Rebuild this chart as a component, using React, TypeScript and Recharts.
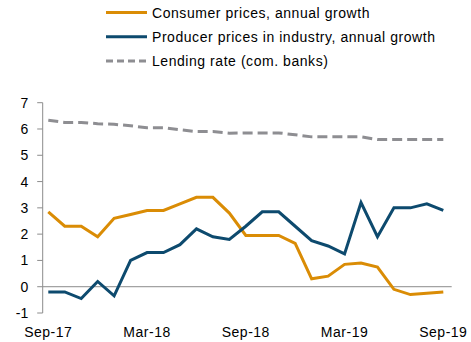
import React from "react";
import { LineChart, Line, XAxis, YAxis, ReferenceLine } from "recharts";

const months = [
  "Sep-17", "Oct-17", "Nov-17", "Dec-17", "Jan-18", "Feb-18", "Mar-18", "Apr-18", "May-18",
  "Jun-18", "Jul-18", "Aug-18", "Sep-18", "Oct-18", "Nov-18", "Dec-18", "Jan-19", "Feb-19",
  "Mar-19", "Apr-19", "May-19", "Jun-19", "Jul-19", "Aug-19", "Sep-19",
];
const consumer = [2.85, 2.3, 2.3, 1.9, 2.6, 2.75, 2.9, 2.9, 3.15, 3.4, 3.4, 2.8, 1.95, 1.95, 1.95, 1.65, 0.3, 0.4, 0.85, 0.9, 0.75, -0.1, -0.3, -0.25, -0.2];
const producer = [-0.2, -0.2, -0.45, 0.2, -0.35, 1.0, 1.3, 1.3, 1.6, 2.2, 1.9, 1.8, 2.3, 2.85, 2.85, 2.3, 1.75, 1.55, 1.25, 3.2, 1.9, 3.0, 3.0, 3.15, 2.9];
const lending = [6.33, 6.25, 6.25, 6.2, 6.18, 6.12, 6.05, 6.05, 5.97, 5.9, 5.9, 5.84, 5.85, 5.85, 5.85, 5.78, 5.7, 5.7, 5.7, 5.7, 5.6, 5.6, 5.6, 5.6, 5.6];
const xTicks = [0, 6, 12, 18, 24];
const yTicks = [-1, 0, 1, 2, 3, 4, 5, 6, 7];
const seriesNames = [
  "Consumer prices, annual growth",
  "Producer prices in industry, annual growth",
  "Lending rate (com. banks)",
];

const data = months.map((m, i) => ({
  idx: i,
  month: m,
  consumer: consumer[i],
  producer: producer[i],
  lending: lending[i],
}));

const ORANGE = "#DA8C05";
const BLUE = "#0D4A6E";
const GREY = "#8E8E92";
const FONT = "'Liberation Sans', Arial, sans-serif";

const legendItems = [
  { name: seriesNames[0], color: ORANGE, dash: undefined as string | undefined },
  { name: seriesNames[1], color: BLUE, dash: undefined as string | undefined },
  { name: seriesNames[2], color: GREY, dash: "7 4" },
];

export default function App() {
  return (
    <div style={{ position: "absolute", left: 0, top: 0, width: 471, height: 342, background: "#fff" }}>
      <svg style={{ position: "absolute", left: 0, top: 0 }} width={471} height={80}>
        {legendItems.map((it, i) => {
          const y = 12.5 + i * 24.3;
          return (
            <g key={it.name}>
              <line x1={106} x2={147} y1={y} y2={y} stroke={it.color} strokeWidth={3} strokeDasharray={it.dash} />
              <text x={152} y={y + 5} fontSize={14} letterSpacing={0.55} fontFamily={FONT} fill="#000">{it.name}</text>
            </g>
          );
        })}
      </svg>
      <LineChart
        width={471}
        height={342}
        data={data}
        margin={{ top: 102.7, right: 19.3, bottom: 0, left: 0 }}
        style={{ position: "absolute", left: 0, top: 0 }}
      >
        <XAxis
          dataKey="idx"
          type="number"
          domain={[-0.34, 24.51]}
          ticks={xTicks}
          tickFormatter={(v: number) => months[v]}
          axisLine={false}
          tickLine={false}
          height={29}
          tick={{ fontSize: 14, fontFamily: FONT, fill: "#000", letterSpacing: 0.5 }}
          tickMargin={8}
          interval={0}
          allowDataOverflow
        />
        <YAxis
          type="number"
          domain={[-1, 7]}
          ticks={yTicks}
          width={42.7}
          axisLine={{ stroke: "#8C8C8C", strokeWidth: 1 }}
          tickLine={{ stroke: "#8C8C8C", strokeWidth: 1 }}
          tickSize={5.5}
          tickMargin={9}
          tick={{ fontSize: 14, fontFamily: FONT, fill: "#000" }}
          interval={0}
        />
        <ReferenceLine y={0} stroke="#8C8C8C" strokeWidth={1} />
        <Line dataKey="lending" stroke={GREY} strokeWidth={3} strokeDasharray="10 5" dot={false} isAnimationActive={false} type="linear" />
        <Line dataKey="consumer" stroke={ORANGE} strokeWidth={3} dot={false} isAnimationActive={false} type="linear" />
        <Line dataKey="producer" stroke={BLUE} strokeWidth={3} dot={false} isAnimationActive={false} type="linear" />
      </LineChart>
    </div>
  );
}
